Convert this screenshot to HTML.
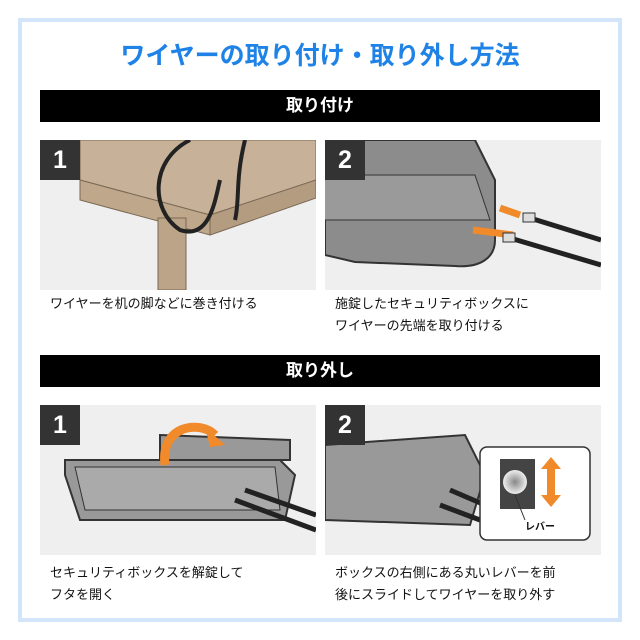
<!DOCTYPE html>
<html><head><meta charset="utf-8"><style>
body{margin:0;width:640px;height:640px;background:#fff;position:relative;overflow:hidden;font-family:"Liberation Sans","Noto Sans CJK JP",sans-serif}
.frame{position:absolute;left:18px;top:18px;width:596px;height:596px;border:4px solid #d3e5fb}
.title{position:absolute;left:0;width:640px;top:36px;text-align:center;color:#1e82e6;font-size:25px;font-weight:bold;letter-spacing:0px}
.bar{position:absolute;left:40px;width:560px;height:32px;background:#000;color:#fff;font-weight:bold;font-size:17px;text-align:center;line-height:32px}
.panel{position:absolute;width:276px;height:150px;background:#efefef;overflow:hidden}
.num{position:absolute;left:0;top:0;width:40px;height:40px;background:#333;color:#fff;font-weight:bold;font-size:25px;text-align:center;line-height:40px}
.cap{position:absolute;font-size:13px;line-height:22px;color:#111}
</style></head><body>
<div class="frame"></div>
<div class="title">ワイヤーの取り付け・取り外し方法</div>
<div class="bar" style="top:90px">取り付け</div>

<div class="panel" style="left:40px;top:140px">
<svg width="276" height="150">
<polygon points="40,0 276,0 276,40 170,75 40,40" fill="#c7b299" stroke="#7a6a55"/>
<polygon points="170,75 276,40 276,58 170,95" fill="#b49c80" stroke="#7a6a55"/>
<polygon points="40,40 170,75 170,95 40,60" fill="#bfa78b" stroke="#7a6a55"/>
<rect x="118" y="78" width="28" height="72" fill="#bca488" stroke="#7a6a55"/>
<path d="M150,0 C110,20 110,70 140,90 C170,100 175,60 180,40" stroke="#222" stroke-width="4" fill="none"/>
<path d="M205,0 C195,40 200,60 195,80" stroke="#222" stroke-width="4" fill="none"/>
</svg>
<div class="num">1</div></div>
<div class="panel" style="left:325px;top:140px">
<svg width="276" height="150">
<path d="M0,0 L150,0 L170,40 L170,100 C170,118 155,128 130,126 L30,122 L0,115 Z" fill="#8c8c8c" stroke="#333" stroke-width="2"/>
<path d="M0,35 L150,35 L165,80 L0,80" fill="#9a9a9a" stroke="#333"/>
<path d="M175,68 L195,75 M148,90 L188,95" stroke="#f08a2a" stroke-width="7"/>
<line x1="205" y1="78" x2="276" y2="100" stroke="#222" stroke-width="5"/>
<line x1="185" y1="98" x2="276" y2="125" stroke="#222" stroke-width="5"/>
<rect x="198" y="73" width="12" height="9" fill="#ddd" stroke="#333"/>
<rect x="178" y="93" width="12" height="9" fill="#ddd" stroke="#333"/>
</svg>
<div class="num">2</div></div>
<div class="cap" style="left:50px;top:293px">ワイヤーを机の脚などに巻き付ける</div>
<div class="cap" style="left:335px;top:293px">施錠したセキュリティボックスに<br>ワイヤーの先端を取り付ける</div>

<div class="bar" style="top:355px">取り外し</div>

<div class="panel" style="left:40px;top:405px">
<svg width="276" height="150">
<path d="M25,55 L240,55 L255,70 L245,115 L40,115 L25,70 Z" fill="#999" stroke="#333" stroke-width="2"/>
<path d="M35,62 L235,62 L240,105 L45,105 Z" fill="#aaa" stroke="#333"/>
<path d="M120,30 L250,35 L250,55 L120,55 Z" fill="#999" stroke="#333" stroke-width="2"/>
<path d="M125,60 C120,20 160,15 175,30" stroke="#f08a2a" stroke-width="9" fill="none"/>
<polygon points="165,22 185,40 170,42" fill="#f08a2a"/>
<line x1="195" y1="95" x2="276" y2="125" stroke="#222" stroke-width="5"/>
<line x1="205" y1="85" x2="276" y2="110" stroke="#222" stroke-width="5"/>
</svg>
<div class="num">1</div></div>
<div class="panel" style="left:325px;top:405px">
<svg width="276" height="150">
<path d="M0,40 L140,30 L160,70 L145,120 L0,115 Z" fill="#999" stroke="#333" stroke-width="2"/>
<line x1="125" y1="85" x2="160" y2="100" stroke="#222" stroke-width="5"/>
<line x1="115" y1="100" x2="155" y2="115" stroke="#222" stroke-width="5"/>
<rect x="155" y="42" width="110" height="93" rx="7" fill="#fff" stroke="#333" stroke-width="1.5"/>
<rect x="175" y="54" width="35" height="50" fill="#444"/>
<radialGradient id="g"><stop offset="0" stop-color="#888"/><stop offset="1" stop-color="#eee"/></radialGradient>
<circle cx="190" cy="77" r="12" fill="url(#g)"/>
<line x1="190" y1="90" x2="200" y2="115" stroke="#333"/>
<path d="M226,52 L236,64 L230,64 L230,90 L236,90 L226,102 L216,90 L222,90 L222,64 L216,64 Z" fill="#f08a2a"/>
<text x="200" y="125" font-size="10" font-weight="bold" fill="#111" font-family="Liberation Sans,Noto Sans CJK JP,sans-serif">レバー</text>
</svg>
<div class="num">2</div></div>
<div class="cap" style="left:50px;top:562px">セキュリティボックスを解錠して<br>フタを開く</div>
<div class="cap" style="left:335px;top:562px">ボックスの右側にある丸いレバーを前<br>後にスライドしてワイヤーを取り外す</div>
</body></html>
